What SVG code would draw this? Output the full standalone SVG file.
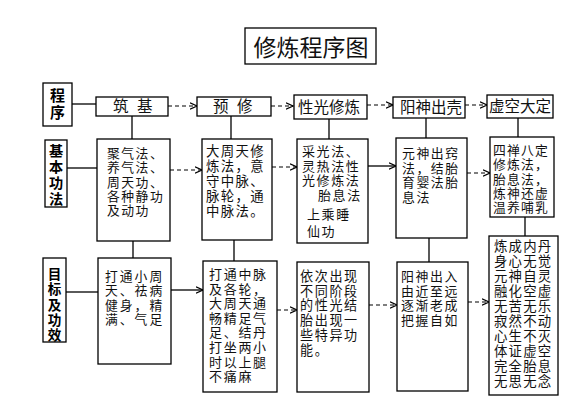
<svg xmlns="http://www.w3.org/2000/svg" width="575" height="420" viewBox="0 0 575 420">
<defs>
<style>
.box{fill:#fff;stroke:#000;stroke-width:1.3}
.t{font-family:"Liberation Sans","Noto Sans CJK SC",sans-serif;font-size:12.8px;letter-spacing:1.5px;fill:#111}
.h{font-family:"Noto Sans CJK SC","Liberation Sans",sans-serif;font-size:15.5px;fill:#111}
.lb{font-family:"Liberation Sans","Noto Sans CJK SC",sans-serif;font-size:14.2px;font-weight:bold;fill:#000;text-anchor:middle}
.ti{font-family:"Noto Sans CJK SC","Liberation Sans",sans-serif;font-size:23px;fill:#111;text-anchor:middle}
.ln{fill:none;stroke:#000;stroke-width:1.3}
.da{fill:none;stroke:#000;stroke-width:1.2;stroke-dasharray:4 3}
</style>
<marker id="ah" markerUnits="userSpaceOnUse" markerWidth="8" markerHeight="8" refX="7" refY="4" orient="auto">
<path d="M0,0.8 L7,4 L0,7.2" fill="none" stroke="#000" stroke-width="1.2"/>
</marker>
</defs>
<rect width="575" height="420" fill="#fff"/>

<g id="title">
<rect class="box" x="245" y="28" width="131" height="36"/>
<text class="ti" x="311" y="56">修炼程序图</text>
</g>

<g id="connectors">
<line class="ln" x1="72" y1="104" x2="96" y2="104"/>
<line class="da" x1="168" y1="106" x2="197" y2="106" marker-end="url(#ah)"/>
<line class="da" x1="271" y1="106" x2="293" y2="106" marker-end="url(#ah)"/>
<line class="da" x1="367" y1="105" x2="393" y2="105" marker-end="url(#ah)"/>
<line class="da" x1="465" y1="105" x2="487" y2="105" marker-end="url(#ah)"/>
<line class="ln" x1="132" y1="116" x2="132" y2="139"/>
<line class="ln" x1="231" y1="116" x2="231" y2="139"/>
<line class="ln" x1="329" y1="119" x2="329" y2="139"/>
<line class="ln" x1="426" y1="118" x2="426" y2="138"/>
<line class="ln" x1="518" y1="118" x2="518" y2="137"/>
<line class="ln" x1="67" y1="168" x2="97" y2="168"/>
<line class="da" x1="170" y1="170" x2="202" y2="170" marker-end="url(#ah)"/>
<line class="da" x1="272" y1="167" x2="297" y2="167" marker-end="url(#ah)"/>
<line class="ln" x1="368" y1="166" x2="396" y2="166" marker-end="url(#ah)"/>
<line class="da" x1="467" y1="173" x2="490" y2="173" marker-end="url(#ah)"/>
<line class="ln" x1="133" y1="241" x2="133" y2="258"/>
<line class="ln" x1="234" y1="240" x2="234" y2="261"/>
<line class="ln" x1="429" y1="238" x2="429" y2="262"/>
<line class="ln" x1="525" y1="217" x2="525" y2="236"/>
<line class="ln" x1="66" y1="292" x2="98" y2="292"/>
<line class="ln" x1="171" y1="290" x2="203" y2="290" marker-end="url(#ah)"/>
<line class="da" x1="277" y1="310" x2="297" y2="310" marker-end="url(#ah)"/>
<line class="da" x1="369" y1="305" x2="397" y2="305" marker-end="url(#ah)"/>
<line class="da" x1="468" y1="302" x2="489" y2="302" marker-end="url(#ah)"/>
</g>

<g id="label-chengxu">
<rect class="box" x="43" y="83" width="29" height="43"/>
<text class="lb" x="57.5" y="101" style="font-size:15px">程</text>
<text class="lb" x="57.5" y="118" style="font-size:15px">序</text>
</g>
<g id="label-gongfa">
<rect class="box" x="45" y="140" width="22" height="67"/>
<text class="lb" x="56" y="156">基</text>
<text class="lb" x="56" y="172">本</text>
<text class="lb" x="56" y="188">功</text>
<text class="lb" x="56" y="204">法</text>
</g>
<g id="label-mubiao">
<rect class="box" x="43" y="258" width="23" height="84"/>
<text class="lb" x="54.5" y="279" style="font-size:13.6px">目</text>
<text class="lb" x="54.5" y="294.3" style="font-size:13.6px">标</text>
<text class="lb" x="54.5" y="309.6" style="font-size:13.6px">及</text>
<text class="lb" x="54.5" y="324.9" style="font-size:13.6px">功</text>
<text class="lb" x="54.5" y="340.2" style="font-size:13.6px">效</text>
</g>

<g id="step-zhuji">
<rect class="box" x="96" y="97" width="72" height="19"/>
<text class="h" x="113" y="112">筑</text>
<text class="h" x="137" y="112">基</text>
</g>
<g id="step-yuxiu">
<rect class="box" x="197" y="97" width="74" height="19"/>
<text class="h" x="213" y="112">预</text>
<text class="h" x="237" y="112">修</text>
</g>
<g id="step-xingguang">
<rect class="box" x="294" y="95" width="73" height="24"/>
<text class="h" x="298" y="112.5">性光修炼</text>
</g>
<g id="step-yangshen">
<rect class="box" x="393" y="97" width="72" height="21"/>
<text class="h" x="400" y="113">阳神出壳</text>
</g>
<g id="step-xukong">
<rect class="box" x="487" y="95" width="66" height="23"/>
<text class="h" x="489" y="112">虚空大定</text>
</g>

<g id="method-1">
<rect class="box" x="97" y="139" width="73" height="102"/>
<text class="t"><tspan x="107" y="158">聚气法、</tspan><tspan x="107" y="172.3">养气法、</tspan><tspan x="107" y="186.6">周天功、</tspan><tspan x="107" y="200.9">各种静功</tspan><tspan x="107" y="215.2">及动功</tspan></text>
</g>
<g id="method-2">
<rect class="box" x="202" y="139" width="70" height="101"/>
<text class="t" style="font-size:13.4px;letter-spacing:1.4px"><tspan x="206" y="156">大周天修</tspan><tspan x="206" y="171">炼法，意</tspan><tspan x="206" y="186">守中脉、</tspan><tspan x="206" y="201">脉轮，通</tspan><tspan x="206" y="216">中脉法。</tspan></text>
</g>
<g id="method-3">
<rect class="box" x="297" y="139" width="71" height="104"/>
<text class="t" style="font-size:13px;letter-spacing:1.6px"><tspan x="302" y="156">采光法、</tspan><tspan x="302" y="170.6">灵热法性</tspan><tspan x="302" y="185.2">光修炼法</tspan><tspan x="318" y="199.8">胎息法</tspan><tspan x="307" y="219">上乘睡</tspan><tspan x="307" y="236">仙功</tspan></text>
</g>
<g id="method-4">
<rect class="box" x="396" y="138" width="71" height="100"/>
<text class="t" style="font-size:12.9px"><tspan x="402" y="158">元神出窍</tspan><tspan x="402" y="172.5">法，结胎</tspan><tspan x="402" y="187">育婴法胎</tspan><tspan x="402" y="201.5">息法</tspan></text>
</g>
<g id="method-5">
<rect class="box" x="490" y="137" width="64" height="80"/>
<text class="t" style="letter-spacing:1.2px"><tspan x="493" y="155">四禅八定</tspan><tspan x="493" y="169.3">修炼法，</tspan><tspan x="493" y="183.6">胎息法，</tspan><tspan x="493" y="197.9">炼神还虚</tspan><tspan x="493" y="212.2">温养哺乳</tspan></text>
</g>

<g id="goal-1">
<rect class="box" x="98" y="258" width="73" height="106"/>
<text class="t" style="letter-spacing:2px"><tspan x="105" y="281">打通小周</tspan><tspan x="105" y="295.3">天、祛病</tspan><tspan x="105" y="309.6">健身，精</tspan><tspan x="105" y="323.9">满、气足</tspan></text>
</g>
<g id="goal-2">
<rect class="box" x="203" y="261" width="74" height="131"/>
<text class="t" style="font-size:13px;letter-spacing:1.7px"><tspan x="209" y="279">打通中脉</tspan><tspan x="209" y="293.6">及各轮，</tspan><tspan x="209" y="308.2">大周天通</tspan><tspan x="209" y="322.8">畅精足气</tspan><tspan x="209" y="337.4">足、结丹</tspan><tspan x="209" y="352">打坐两小</tspan><tspan x="209" y="366.6">时以上腿</tspan><tspan x="209" y="381.2">不痛麻</tspan></text>
</g>
<g id="goal-3">
<rect class="box" x="297" y="262" width="72" height="130"/>
<text class="t" style="font-size:13.1px;letter-spacing:1.6px"><tspan x="300" y="281">依次出现</tspan><tspan x="300" y="295.7">不同阶段</tspan><tspan x="300" y="310.4">的性光结</tspan><tspan x="300" y="325.1">胎出现一</tspan><tspan x="300" y="339.8">些特异功</tspan><tspan x="300" y="354.5">能。</tspan></text>
</g>
<g id="goal-4">
<rect class="box" x="397" y="262" width="71" height="129"/>
<text class="t" style="font-size:12.9px;letter-spacing:1.6px"><tspan x="401" y="281">阳神出入</tspan><tspan x="401" y="295.5">由近至远</tspan><tspan x="401" y="310">逐渐老成</tspan><tspan x="401" y="324.5">把握自如</tspan></text>
</g>
<g id="goal-5">
<rect class="box" x="489" y="236" width="69" height="159"/>
<text class="t" style="font-size:13.4px;letter-spacing:1.2px"><tspan x="494" y="251">炼成内丹</tspan><tspan x="494" y="266">身心无觉</tspan><tspan x="494" y="281">元神自灵</tspan><tspan x="494" y="296">融化空虚</tspan><tspan x="494" y="311">无苦无乐</tspan><tspan x="494" y="326">寂然不动</tspan><tspan x="494" y="341">心生不灭</tspan><tspan x="494" y="356">体证虚空</tspan><tspan x="494" y="371">完全胎息</tspan><tspan x="494" y="386">无思无念</tspan></text>
</g>
</svg>
